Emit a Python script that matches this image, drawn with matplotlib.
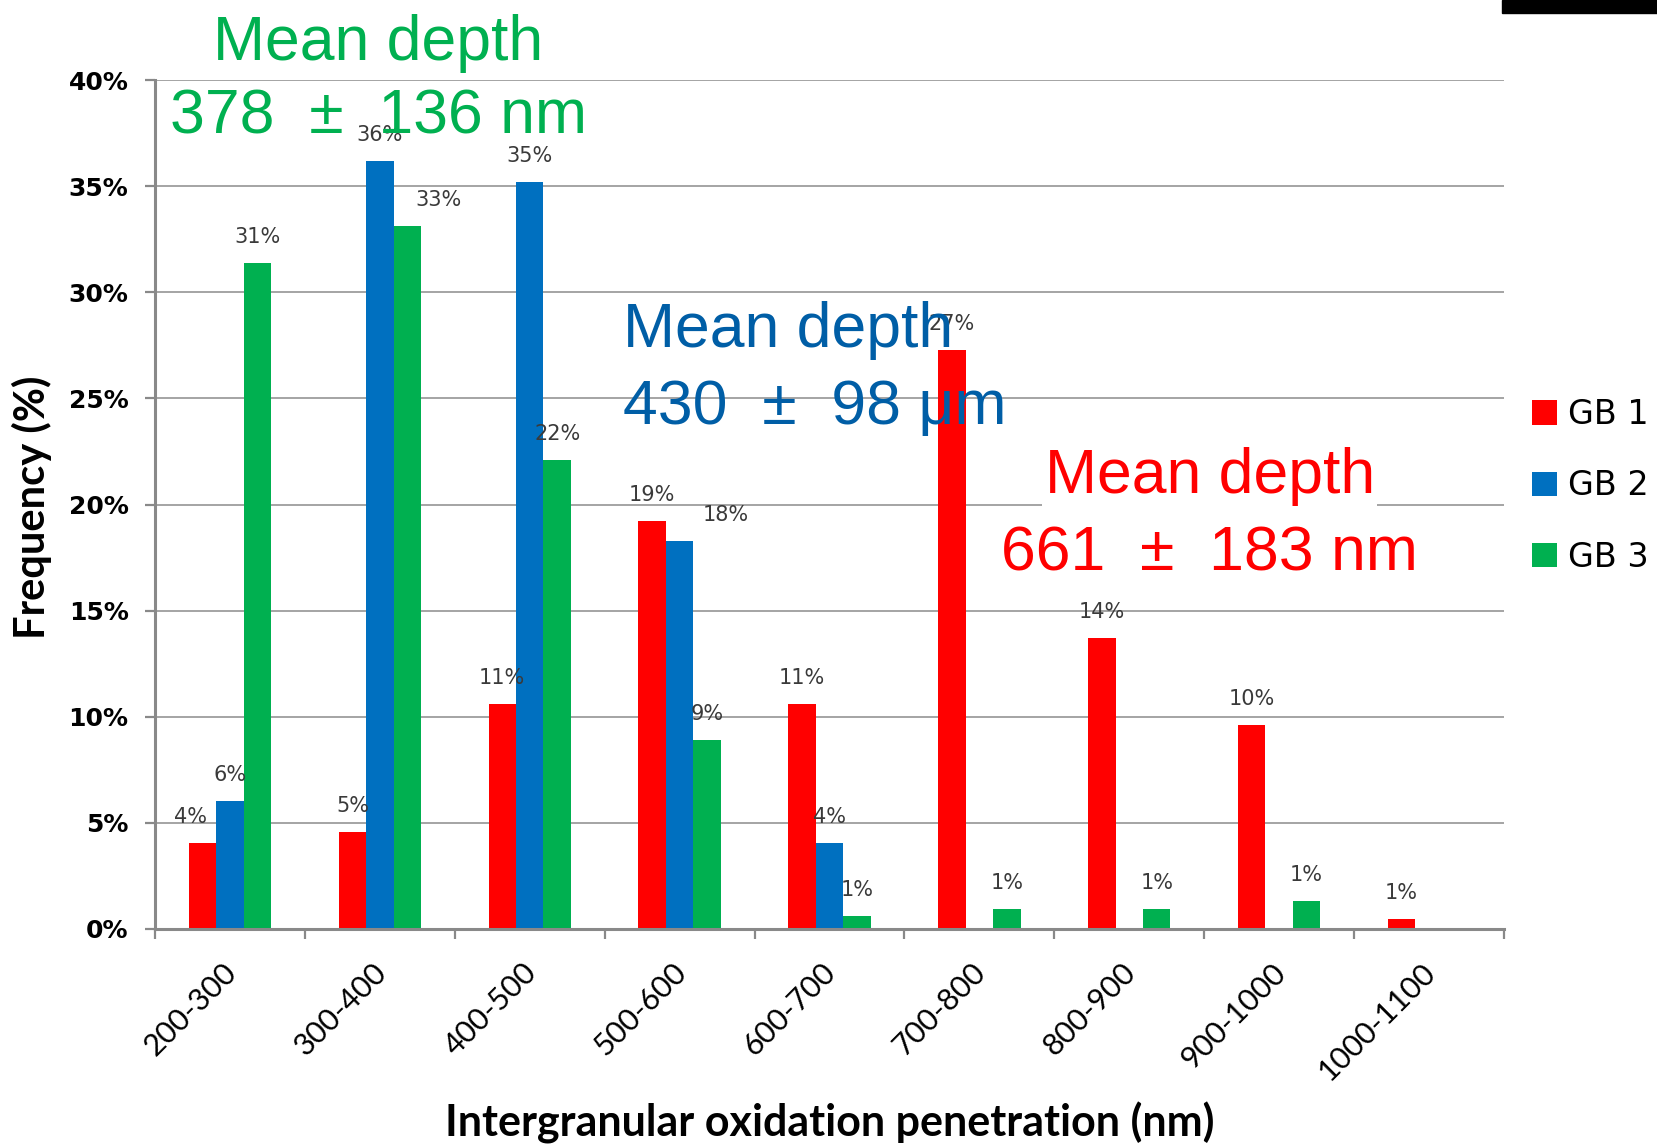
import matplotlib
matplotlib.use('Agg')
import matplotlib.pyplot as plt
from matplotlib.patches import Rectangle
from matplotlib.transforms import ScaledTranslation
import numpy as np

bins = ['200-300', '300-400', '400-500', '500-600', '600-700',
        '700-800', '800-900', '900-1000', '1000-1100']
series = ['GB 1', 'GB 2', 'GB 3']
gb1 = [4.06, 4.56, 10.6, 19.2, 10.6, 27.3, 13.7, 9.6, 0.46]
gb2 = [6.05, 36.2, 35.2, 18.3, 4.04, 0, 0, 0, 0]
gb3 = [31.4, 33.1, 22.1, 8.9, 0.63, 0.94, 0.94, 1.33, 0]
# the data labels as printed on the chart
gb1_text = ['4%', '5%', '11%', '19%', '11%', '27%', '14%', '10%', '1%']
gb2_text = ['6%', '36%', '35%', '18%', '4%', '', '', '', '']
gb3_text = ['31%', '33%', '22%', '9%', '1%', '1%', '1%', '1%', '']
colors = ['#ff0000', '#0070c0', '#00b050']

fig = plt.figure(figsize=(16.58, 11.44), dpi=100)
ax = fig.add_axes([155/1658, 1-929/1144, 1349/1658, 849/1144])

x = np.arange(len(bins))
w = 0.183
nudge = {(0, 0): -12, (2, 1): 31, (1, 3): 46}  # a few labels sit off-centre (px)
for i, (vals, texts) in enumerate(zip([gb1, gb2, gb3], [gb1_text, gb2_text, gb3_text])):
    pos = x + (i - 1) * w
    ax.bar(pos, vals, w, color=colors[i], label=series[i], zorder=2)
    for j in range(len(bins)):
        if texts[j] == '':
            continue
        dx = nudge.get((i, j), 0) * 0.72
        ax.annotate(texts[j], (pos[j], vals[j]), xytext=(dx, 14.4),
                    textcoords='offset points', ha='center', va='baseline',
                    fontsize=15, color='#3a3a3a', zorder=3)

ax.set_xlim(-0.5, 8.5)
ax.set_ylim(0, 40)
ax.set_yticks(np.arange(0, 41, 5))
ax.set_yticklabels(['%d%%' % v for v in range(0, 41, 5)], fontsize=18, fontweight='bold')
ax.yaxis.grid(True, color='#8c8c8c', linewidth=1.1)
ax.set_axisbelow(True)

ax.set_xticks(x)
ax.set_xticklabels(bins, rotation=45, ha='right', va='top', rotation_mode='anchor',
                   fontsize=22, family='Lato')
ax.set_xticks(np.arange(-0.5, 9, 1), minor=True)
ax.tick_params(axis='x', which='major', length=0, pad=21)
ax.tick_params(axis='x', which='minor', length=7, width=1.6, color='#898989')
ax.tick_params(axis='y', length=7, width=1.6, color='#898989', pad=12)
# labels sit a little left of the bin centre
shift = ScaledTranslation(-8/100, 0, fig.dpi_scale_trans)
for lbl in ax.get_xticklabels():
    lbl.set_transform(lbl.get_transform() + shift)

for s in ['top', 'right']:
    ax.spines[s].set_visible(False)
for s in ['left', 'bottom']:
    ax.spines[s].set_color('#898989')
    ax.spines[s].set_linewidth(2.2)

fig.text(32/1658, 1-507/1144, 'Frequency (%)', rotation=90, ha='center', va='center',
         fontsize=30, fontweight='bold', family='Lato')
fig.text(830/1658, 1-1123/1144, 'Intergranular oxidation penetration (nm)', ha='center',
         va='center', fontsize=31, fontweight='bold', family='Lato')


def note(xc, y1, y2, line1, line2, color, ha):
    kw = dict(ha=ha, va='baseline', fontsize=45, family='Liberation Sans')
    # white patch behind the first line hides the gridline, not the bars
    ax.text(xc, y1, line1, color='none', zorder=1,
            bbox=dict(fc='white', ec='none', pad=2), **kw)
    ax.text(xc, y1, line1, color=color, zorder=4, **kw)
    ax.text(xc, y2, line2, color=color, zorder=4, **kw)


note(0.988, 40.95, 37.5, 'Mean depth', '378  ±  136 nm', '#00b050', 'center')
note(2.622, 27.43, 23.8, 'Mean depth', '430  ±  98 μm', '#005ea6', 'left')
note(6.538, 20.55, 16.87, 'Mean depth', '661  ±  183 nm', '#ff0000', 'center')

fig.legend(loc='upper left', bbox_to_anchor=(1532/1658, 1-398/1144), frameon=False,
           prop={'family': 'DejaVu Sans', 'size': 24}, handlelength=0.75,
           handleheight=0.75, handletextpad=0.33, labelspacing=1.15,
           borderpad=0, borderaxespad=0)

fig.add_artist(Rectangle((1502/1658, 1-13/1144), 156/1658, 13/1144,
                         transform=fig.transFigure, color='black'))

fig.savefig('out.png', dpi=100)
